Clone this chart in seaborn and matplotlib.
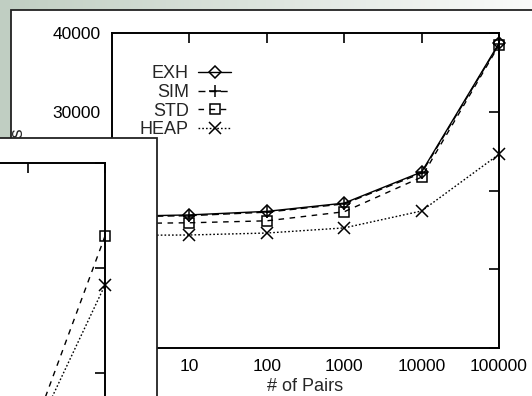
import numpy as np
import pandas as pd
import matplotlib
matplotlib.use("Agg")
import matplotlib.pyplot as plt
import seaborn as sns
from matplotlib.patches import Rectangle

# ---------------- data ----------------
pairs = [1, 10, 100, 1000, 10000, 100000]
exh = [16700, 16900, 17350, 18400, 22350, 38700]
sim = [16650, 16800, 17250, 18300, 22200, 38600]
std = [15800, 15900, 16150, 17300, 21700, 38450]
heap = [14300, 14350, 14600, 15250, 17400, 24600]
series_names = ["EXH", "SIM", "STD", "HEAP"]

xticks = [10, 100, 1000, 10000, 100000]
xtick_labels = ["10", "100", "1000", "10000", "100000"]
yticks = [0, 10000, 20000, 30000, 40000]
ytick_labels = ["0", "10000", "20000", "30000", "40000"]
x_label = "# of Pairs"
y_label = "Time in msecs"

# partially visible second chart (overlapping slide panel)
inset_pairs = [1000, 10000, 100000]
inset_std = [20, 157, 1152]
inset_heap = [15, 138, 919]
inset_yticks = [0, 500, 1000, 1500]

# ---------------- style ----------------
sns.set_style("white")
plt.rcParams["font.family"] = ["Liberation Sans", "DejaVu Sans"]

W, H = 532, 396
fig = plt.figure(figsize=(W / 100, H / 100), dpi=100)

def fx(px):
    return px / W

def fy(py):
    return 1 - py / H

# slide background gradient
bg = fig.add_axes([0, 0, 1, 1], zorder=-10)
grad = np.linspace(0, 1, 256)
c0 = np.array([192, 206, 194]) / 255
c1 = np.array([250, 251, 250]) / 255
img = c0[None, :] * (1 - grad[:, None]) + c1[None, :] * grad[:, None]
bg.imshow(img[None, :, :], aspect="auto", extent=[0, 1, 0, 1])
bg.set_axis_off()

# white panel of main chart
fig.patches.append(Rectangle((fx(11), -0.2), 1.2, fy(10) + 0.2, transform=fig.transFigure,
                             facecolor="white", edgecolor="#222222", linewidth=1.3, zorder=-5))

# ---------------- main chart ----------------
ax = fig.add_axes([fx(112), fy(348), fx(499) - fx(112), fy(33) - fy(348)], zorder=0)
ax.set_facecolor("none")

styles = {
    "EXH": dict(marker="D", linestyle="-", ms=6.5),
    "SIM": dict(marker="+", linestyle=(0, (5, 3)), ms=9),
    "STD": dict(marker="s", linestyle=(0, (4, 4)), ms=7),
    "HEAP": dict(marker="x", linestyle=(0, (1.2, 1.5)), ms=8),
}
values = {"EXH": exh, "SIM": sim, "STD": std, "HEAP": heap}
for name in series_names:
    st = styles[name]
    sns.lineplot(x=pairs, y=values[name], ax=ax, color="black", lw=1.0,
                 marker=st["marker"], linestyle=st["linestyle"], markersize=st["ms"],
                 mfc="none", mec="black", mew=1.1, label=name, clip_on=False)

ax.set_xscale("log")
ax.set_xlim(1, 100000)
ax.set_ylim(0, 40000)
ax.set_xticks(xticks)
ax.set_xticklabels(xtick_labels)
ax.set_yticks(yticks)
ax.set_yticklabels(ytick_labels)
ax.minorticks_off()
ax.tick_params(direction="in", length=7, width=1.2, top=True, right=True,
               labelsize=12.5, color="black", labelcolor="black")
ax.tick_params(axis="y", pad=8)
ax.tick_params(axis="x", pad=8)
for sp in ax.spines.values():
    sp.set_visible(True)
    sp.set_linewidth(1.4)
    sp.set_color("black")
ax.set_xlabel(x_label, fontsize=13)
ax.set_ylabel(y_label, fontsize=13)
ax.xaxis.set_label_coords(0.5, -0.095)
ax.yaxis.set_label_coords(-0.22, 0.515)

leg = ax.legend(loc="upper left", bbox_to_anchor=(0.072, 0.897), frameon=False,
                markerfirst=False, fontsize=13, handlelength=1.85, handletextpad=0.5,
                labelspacing=0.09, borderpad=0, borderaxespad=0)

# ---------------- overlapping second panel ----------------
fig.patches.append(Rectangle((-0.2, -0.2), fx(157) + 0.2, fy(138) + 0.2, transform=fig.transFigure,
                             facecolor="white", edgecolor="#222222", linewidth=1.3, zorder=1))

ax2 = fig.add_axes([fx(105) - (fx(499) - fx(112)), fy(163) - (fy(33) - fy(348)),
                    fx(499) - fx(112), fy(33) - fy(348)], zorder=2)
ax2.set_facecolor("none")
sns.lineplot(x=inset_pairs, y=inset_std, ax=ax2, color="black", lw=1.0, marker="s",
             linestyle=(0, (4, 4)), markersize=7, mfc="none", mec="black", mew=1.1,
             clip_on=False)
sns.lineplot(x=inset_pairs, y=inset_heap, ax=ax2, color="black", lw=1.0, marker="x",
             linestyle=(0, (1.2, 1.5)), markersize=8, mfc="none", mec="black", mew=1.1,
             clip_on=False)
ax2.set_xscale("log")
ax2.set_xlim(1, 100000)
ax2.set_ylim(0, 1500)
ax2.set_xticks(xticks)
ax2.set_yticks(inset_yticks)
ax2.minorticks_off()
ax2.tick_params(direction="in", length=7, width=1.2, top=True, right=True,
                labelbottom=False, labelleft=False, color="black")
for sp in ax2.spines.values():
    sp.set_visible(True)
    sp.set_linewidth(1.4)
    sp.set_color("black")
if ax2.get_legend() is not None:
    ax2.get_legend().remove()

fig.savefig("out.png", dpi=100)
